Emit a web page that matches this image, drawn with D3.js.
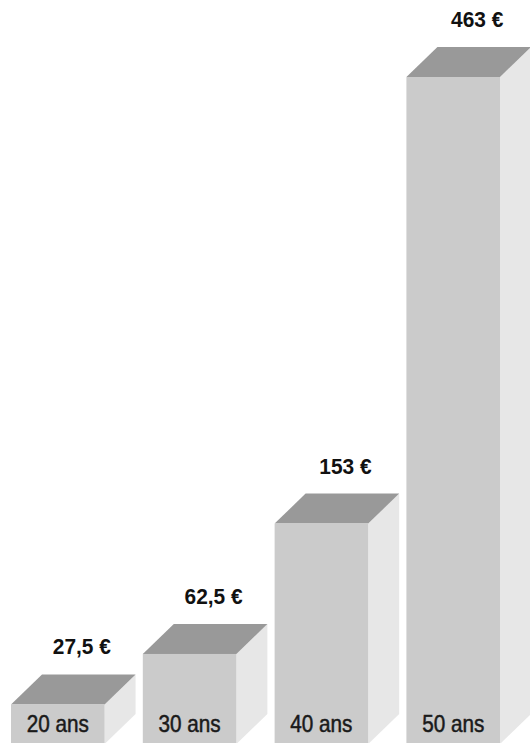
<!DOCTYPE html>
<html>
<head>
<meta charset="utf-8">
<script src="https://cdn.jsdelivr.net/npm/d3@7"></script>
<style>
  html, body { margin: 0; padding: 0; background: #ffffff; }
  svg { display: block; }
</style>
</head>
<body>
<svg id="chart" width="530" height="743"></svg>
<script>
const categories = ["20 ans", "30 ans", "40 ans", "50 ans"];
const values = [27.5, 62.5, 153, 463];
const valueLabels = ["27,5 €", "62,5 €", "153 €", "463 €"];

const svg = d3.select("#chart");
const depthX = 31, depthY = 30;

const x = d3.scaleBand().domain(categories).range([11, 500]).paddingInner(0.29).paddingOuter(0);
const y = d3.scaleLinear().domain([0, 463]).range([744, 77]);

const data = categories.map((c, i) => ({ cat: c, v: values[i], label: valueLabels[i] }));

const g = svg.selectAll("g.bar").data(data).join("g").attr("class", "bar");

// right side face
g.append("path")
  .attr("fill", "#e7e7e7")
  .attr("d", d => {
    const x1 = x(d.cat) + x.bandwidth(), yt = y(d.v), yb = y(0);
    return `M${x1},${yt} L${x1 + depthX},${yt - depthY} L${x1 + depthX},${yb - depthY} L${x1},${yb} Z`;
  });

// top face
g.append("path")
  .attr("fill", "#999999")
  .attr("d", d => {
    const x0 = x(d.cat), x1 = x0 + x.bandwidth(), yt = y(d.v);
    return `M${x0},${yt} L${x0 + depthX},${yt - depthY} L${x1 + depthX},${yt - depthY} L${x1},${yt} Z`;
  });

// front face
g.append("rect")
  .attr("fill", "#cbcbcb")
  .attr("x", d => x(d.cat))
  .attr("y", d => y(d.v))
  .attr("width", x.bandwidth())
  .attr("height", d => y(0) - y(d.v));

// value labels
g.append("text")
  .attr("transform", d => `translate(${x(d.cat) + x.bandwidth() / 2 + 24},${y(d.v) - 50}) scale(0.95,1)`)
  .attr("text-anchor", "middle")
  .attr("font-family", "'Liberation Sans', Arial, sans-serif")
  .attr("font-weight", "bold")
  .attr("font-size", 22)
  .attr("fill", "#111111")
  .text(d => d.label);

// category labels
g.append("text")
  .attr("transform", d => `translate(${x(d.cat) + x.bandwidth() / 2},732) scale(0.9,1)`)
  .attr("text-anchor", "middle")
  .attr("font-family", "'Liberation Sans', Arial, sans-serif")
  .attr("font-size", 23)
  .attr("fill", "#1a1a1a")
  .attr("stroke", "#1a1a1a")
  .attr("stroke-width", 0.5)
  .text(d => d.cat);
</script>
</body>
</html>
